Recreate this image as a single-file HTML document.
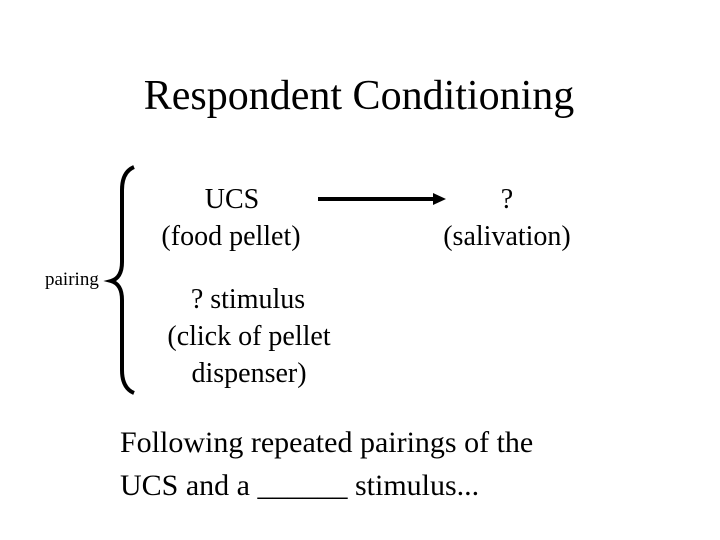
<!DOCTYPE html>
<html><head><style>
html,body{margin:0;padding:0;background:#fff;}
body{width:720px;height:540px;position:relative;overflow:hidden;font-family:"Liberation Serif",serif;color:#000;}
.t{position:absolute;white-space:nowrap;line-height:1;}
.c{transform:translateX(-50%);}
</style></head><body>
<div class="t c" style="left:359px;top:75px;font-size:42px;">Respondent Conditioning</div>
<div class="t c" style="left:232px;top:186px;font-size:28px;">UCS</div>
<div class="t c" style="left:231px;top:223px;font-size:28px;">(food pellet)</div>
<div class="t c" style="left:507px;top:186px;font-size:28px;">?</div>
<div class="t c" style="left:507px;top:223px;font-size:28px;">(salivation)</div>
<div class="t" style="left:45px;top:270px;font-size:19px;">pairing</div>
<div class="t c" style="left:248px;top:286px;font-size:28px;">? stimulus</div>
<div class="t c" style="left:249px;top:323px;font-size:28px;">(click of pellet</div>
<div class="t c" style="left:249px;top:360px;font-size:28px;">dispenser)</div>
<div class="t" style="left:120px;top:428px;font-size:30px;">Following repeated pairings of the</div>
<div class="t" style="left:120px;top:471px;font-size:30px;">UCS and a ______ stimulus...</div>
<svg width="720" height="540" style="position:absolute;left:0;top:0">
<path d="M134,167 Q122,172 122,190 L122,262 Q122,278 111,281 Q122,284 122,300 L122,370 Q122,388 134,393" fill="none" stroke="#000" stroke-width="4"/>
<line x1="318" y1="199" x2="436" y2="199" stroke="#000" stroke-width="4"/>
<polygon points="446,199 433,193 433,205" fill="#000"/>
</svg>
</body></html>
